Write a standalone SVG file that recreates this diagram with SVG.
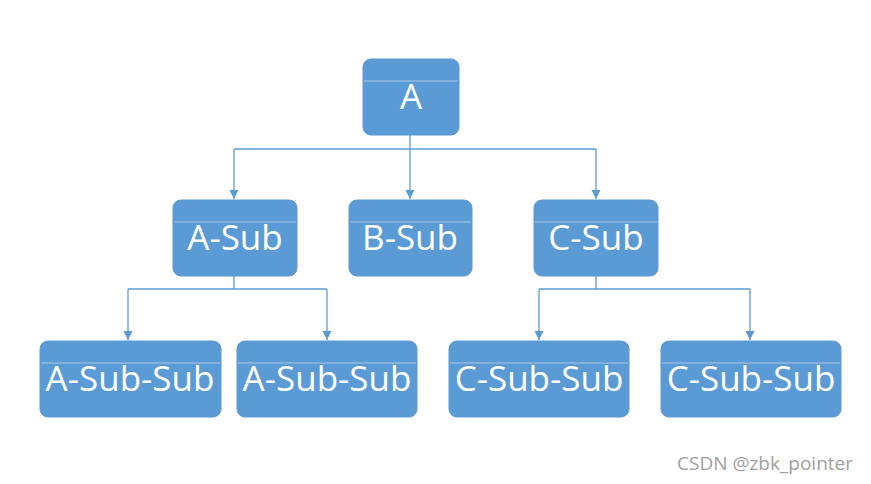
<svg xmlns="http://www.w3.org/2000/svg" width="871" height="484" viewBox="0 0 871 484">
<defs>
<marker id="ah" markerWidth="10" markerHeight="10" refX="9" refY="5" orient="auto" markerUnits="userSpaceOnUse" viewBox="0 0 10 10">
<path d="M0,0.5 L9,5 L0,9.5 Z" fill="#5B9BD5"/>
</marker>
</defs>
<style>
.box{fill:#5B9BD5;stroke:#5B9BD5;stroke-width:1}
.div{stroke:#A9C8E8;stroke-width:1.2}
.t{fill:#fff;font-family:"Open Sans","DejaVu Sans",sans-serif;font-size:35px;text-anchor:middle}
.c{fill:none;stroke:#5B9BD5;stroke-width:1.3}
.wm{fill:#a0a0a0;font-family:"Open Sans","DejaVu Sans",sans-serif;font-size:19px}
</style>
<rect width="871" height="484" fill="#fff"/>
<g id="connectors">
<path class="c" d="M410,135 V149 M234,149 H596"/>
<path class="c" d="M234,149 V199" marker-end="url(#ah)"/>
<path class="c" d="M410,149 V199" marker-end="url(#ah)"/>
<path class="c" d="M596,149 V199" marker-end="url(#ah)"/>
<path class="c" d="M234,276 V289 M128,289 H327"/>
<path class="c" d="M128,289 V340" marker-end="url(#ah)"/>
<path class="c" d="M327,289 V340" marker-end="url(#ah)"/>
<path class="c" d="M596,276 V289 M539,289 H750"/>
<path class="c" d="M539,289 V340" marker-end="url(#ah)"/>
<path class="c" d="M750,289 V340" marker-end="url(#ah)"/>
</g>
<g id="A">
<rect class="box" x="363" y="59" width="96" height="76" rx="8"/>
<line class="div" x1="364" y1="81" x2="458" y2="81"/>
<text class="t" x="411" y="109">A</text>
</g>
<g id="A-Sub">
<rect class="box" x="173" y="200" width="124" height="76" rx="8"/>
<line class="div" x1="174" y1="222" x2="296" y2="222"/>
<text class="t" x="235" y="250">A-Sub</text>
</g>
<g id="B-Sub">
<rect class="box" x="349" y="200" width="123" height="76" rx="8"/>
<line class="div" x1="350" y1="222" x2="471" y2="222"/>
<text class="t" x="410" y="250">B-Sub</text>
</g>
<g id="C-Sub">
<rect class="box" x="534" y="200" width="124" height="76" rx="8"/>
<line class="div" x1="535" y1="222" x2="657" y2="222"/>
<text class="t" x="596" y="250">C-Sub</text>
</g>
<g id="A-Sub-Sub-1">
<rect class="box" x="40" y="341" width="181" height="76" rx="8"/>
<line class="div" x1="41" y1="363" x2="220" y2="363"/>
<text class="t" x="130" y="391">A-Sub-Sub</text>
</g>
<g id="A-Sub-Sub-2">
<rect class="box" x="237" y="341" width="180" height="76" rx="8"/>
<line class="div" x1="238" y1="363" x2="416" y2="363"/>
<text class="t" x="327" y="391">A-Sub-Sub</text>
</g>
<g id="C-Sub-Sub-1">
<rect class="box" x="449" y="341" width="180" height="76" rx="8"/>
<line class="div" x1="450" y1="363" x2="628" y2="363"/>
<text class="t" x="539" y="391">C-Sub-Sub</text>
</g>
<g id="C-Sub-Sub-2">
<rect class="box" x="661" y="341" width="180" height="76" rx="8"/>
<line class="div" x1="662" y1="363" x2="840" y2="363"/>
<text class="t" x="751" y="391">C-Sub-Sub</text>
</g>
<text class="wm" x="677" y="470">CSDN @zbk_pointer</text>
</svg>
